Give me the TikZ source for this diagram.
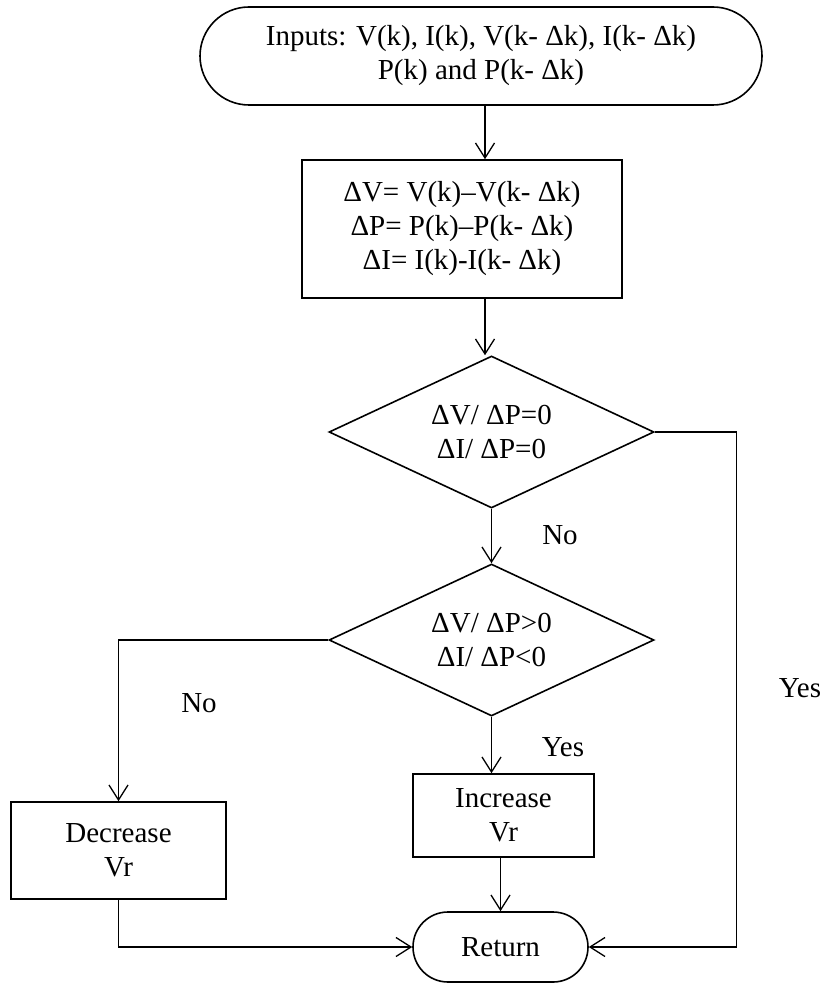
\documentclass[tikz,border=0pt]{standalone}
\usepackage{fontspec}
\setmainfont{Liberation Serif}
\usetikzlibrary{arrows.meta,shapes.geometric}

\tikzset{
  >={Straight Barb[length=15pt,width=19pt]},
  every node/.style={font=\fontsize{29}{34}\selectfont, align=center, inner sep=0.75pt},
  termbox/.style={draw, line width=1.6pt, rectangle},
  procbox/.style={draw, line width=1.6pt, rectangle},
  decbox/.style={draw, line width=1.6pt, diamond, aspect=2.14, minimum width=325pt, minimum height=152pt},
  conn/.style={->, line width=1.3pt}
}

\begin{document}
\begin{tikzpicture}[x=1pt,y=1pt,yscale=-1,xscale=1]
\useasboundingbox (0,0) rectangle (826,984);

%Shape: Terminator [id:start]
\node [termbox, rounded corners=49pt, minimum width=562pt, minimum height=98pt] (start) at (481,56) {Inputs: V(k), I(k), V(k- Δk), I(k- Δk)\\P(k) and P(k- Δk)};
%Shape: Rectangle [id:calc]
\node [procbox, minimum width=320pt, minimum height=138pt] (calc) at (462,229) {ΔV= V(k)–V(k- Δk)\\ΔP= P(k)–P(k- Δk)\\ΔI= I(k)-I(k- Δk)};
%Shape: Diamond [id:dec1]
\node [decbox] (dec1) at (491.5,432) {ΔV/ ΔP=0\\ΔI/ ΔP=0};
%Shape: Diamond [id:dec2]
\node [decbox] (dec2) at (491.5,640) {ΔV/ ΔP>0\\ΔI/ ΔP<0};
%Shape: Rectangle [id:inc]
\node [procbox, minimum width=181pt, minimum height=83pt] (inc) at (503.5,815.5) {Increase\\Vr};
%Shape: Rectangle [id:dec]
\node [procbox, minimum width=215pt, minimum height=97pt] (dec) at (118.5,850.5) {Decrease\\Vr};
%Shape: Terminator [id:ret]
\node [termbox, rounded corners=35pt, minimum width=175pt, minimum height=70pt] (ret) at (500.5,947) {Return};

%Straight Lines
\coordinate (colA) at (485,0);
\draw [conn] (start.south -| colA) -- (calc.north -| colA);
\draw [conn] (calc.south -| colA) -- (dec1.north -| colA);
\draw [conn] (dec1.south) -- (dec2.north);
\draw [conn] (dec1.east) -- ++(82,0) |- (ret.east);
\draw [conn] (dec2.west) -| (dec.north);
\draw [conn] (dec2.south) -- (dec2.south |- inc.north);
\draw [conn] (inc.south -| ret.north) -- (ret.north);
\draw [conn] (dec.south) |- (ret.west);

% Text Node
\node (lno1) at (560,535) {No};
% Text Node
\node (lyes1) at (800,688) {Yes};
% Text Node
\node (lno2) at (199,703) {No};
% Text Node
\node (lyes2) at (563,747) {Yes};
\end{tikzpicture}
\end{document}
